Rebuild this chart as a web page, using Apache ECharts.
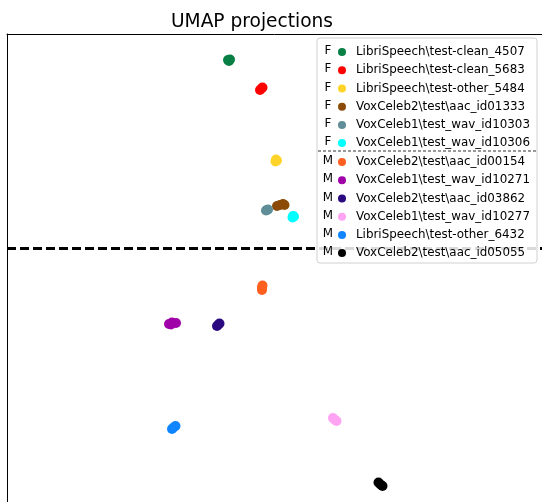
<!DOCTYPE html>
<html>
<head>
<meta charset="utf-8">
<script src="https://cdn.jsdelivr.net/npm/echarts@6/dist/echarts.min.js"></script>
<style>
  html, body { margin: 0; padding: 0; background: #fff; }
  #chart { width: 542px; height: 502px; }
</style>
</head>
<body>
<div id="chart"></div>
<script>
// speakers, in legend order
const speakerNames = [
    'LibriSpeech\\test-clean_4507',
    'LibriSpeech\\test-clean_5683',
    'LibriSpeech\\test-other_5484',
    'VoxCeleb2\\test\\aac_id01333',
    'VoxCeleb1\\test_wav_id10303',
    'VoxCeleb1\\test_wav_id10306',
    'VoxCeleb2\\test\\aac_id00154',
    'VoxCeleb1\\test_wav_id10271',
    'VoxCeleb2\\test\\aac_id03862',
    'VoxCeleb1\\test_wav_id10277',
    'LibriSpeech\\test-other_6432',
    'VoxCeleb2\\test\\aac_id05055'
];
const speakerGenders = ['F', 'F', 'F', 'F', 'F', 'F', 'M', 'M', 'M', 'M', 'M', 'M'];
const speakerColors = [
    '#087f45', '#ff0000', '#ffd42a', '#8b4a06', '#5f8e98', '#00ffff',
    '#ff5f1f', '#a000a8', '#2b0a80', '#ffa3f3', '#1085ff', '#000000'
];

// umap coordinates
const pts4507 = [[4.42, 9.48], [4.46, 9.49], [4.44, 9.46]];
const pts5683 = [[5.06, 8.88], [5.09, 8.91], [5.11, 8.93]];
const pts5484 = [[5.37, 7.45], [5.40, 7.47], [5.38, 7.49]];
const pts01333 = [[5.40, 6.56], [5.46, 6.58], [5.52, 6.60], [5.55, 6.58]];
const pts10303 = [[5.18, 6.47], [5.22, 6.49], [5.20, 6.48]];
const pts10306 = [[5.71, 6.33], [5.74, 6.35], [5.72, 6.36]];
const pts00154 = [[5.10, 4.88], [5.10, 4.93], [5.11, 4.97]];
const pts10271 = [[3.24, 4.20], [3.30, 4.23], [3.38, 4.22], [3.28, 4.19]];
const pts03862 = [[4.20, 4.16], [4.23, 4.19], [4.25, 4.21]];
const pts10277 = [[6.52, 2.32], [6.55, 2.29], [6.59, 2.26]];
const pts6432 = [[3.30, 2.10], [3.33, 2.13], [3.37, 2.16]];
const pts05055 = [[7.43, 1.03], [7.47, 0.99], [7.51, 0.96]];
const speakerPoints = [
    pts4507, pts5683, pts5484, pts01333, pts10303, pts10306,
    pts00154, pts10271, pts03862, pts10277, pts6432, pts05055
];

// dashed line separating female / male clusters
const splitY = 5.72;

// visible part of the (cropped) axes
const xRange = [0, 10.7];
const yRange = [0.64, 10];

const chart = echarts.init(document.getElementById('chart'));

const femaleNames = speakerNames.filter((n, i) => speakerGenders[i] === 'F');
const maleNames = speakerNames.filter((n, i) => speakerGenders[i] === 'M');

const series = speakerNames.map((name, i) => ({
    name: name,
    type: 'scatter',
    data: speakerPoints[i],
    symbolSize: 10,
    itemStyle: { color: speakerColors[i], opacity: 1 },
    emphasis: { disabled: true }
}));
series[0].markLine = {
    silent: true,
    symbol: 'none',
    label: { show: false },
    lineStyle: { color: '#000', width: 3, type: [9, 4] },
    data: [{ yAxis: splitY }]
};

const rowH = 18.2;
const fTop = 43;
const mTop = 153;

const legendCommon = {
    orient: 'vertical',
    left: 338,
    z: 101,
    icon: 'circle',
    itemWidth: 8,
    itemHeight: 8,
    itemGap: 0,
    selectedMode: false,
    padding: 0,
    textStyle: {
        fontFamily: 'DejaVu Sans', fontSize: 11.9, color: '#000',
        lineHeight: rowH, padding: [0, 0, 0, 5]
    }
};

// F / M letters in front of legend rows
const genderLabels = speakerGenders.map((g, i) => ({
    type: 'text',
    z: 102,
    x: 328,
    y: (i < 6 ? fTop : mTop) + (i % 6) * rowH + rowH / 2 - 1,
    style: {
        text: g, fontFamily: 'DejaVu Sans', fontSize: 11.9, fill: '#000',
        align: 'center', verticalAlign: 'middle'
    }
}));

const option = {
    backgroundColor: '#fff',
    animation: false,
    title: {
        text: 'UMAP projections',
        left: 166,
        top: 8,
        textStyle: { fontFamily: 'DejaVu Sans', fontSize: 18.6, fontWeight: 'normal', color: '#000' }
    },
    grid: {
        left: 7,
        top: 34,
        right: 0,
        bottom: 0,
        show: false
    },
    xAxis: {
        type: 'value', min: xRange[0], max: xRange[1], position: 'top',
        axisLine: { show: true, onZero: false, lineStyle: { color: '#000', width: 1 } },
        axisTick: { show: false },
        axisLabel: { show: false }, splitLine: { show: false }
    },
    yAxis: {
        type: 'value', min: yRange[0], max: yRange[1],
        axisLine: { show: true, onZero: false, lineStyle: { color: '#000', width: 1 } },
        axisTick: { show: false },
        axisLabel: { show: false }, splitLine: { show: false }
    },
    legend: [
        Object.assign({}, legendCommon, { top: fTop, data: femaleNames }),
        Object.assign({}, legendCommon, { top: mTop, data: maleNames })
    ],
    graphic: {
        z: 100,
        elements: [
            {
                type: 'rect',
                z: 100,
                shape: { x: 317, y: 38, width: 220, height: 225, r: 3 },
                style: { fill: 'rgba(255,255,255,0.85)', stroke: '#d0d0d0', lineWidth: 1 }
            },
            {
                type: 'line',
                z: 102,
                shape: { x1: 318, y1: 151, x2: 537, y2: 151 },
                style: { stroke: '#333', lineWidth: 1, lineDash: [3, 2] }
            }
        ].concat(genderLabels)
    },
    series: series
};

chart.setOption(option);
</script>
</body>
</html>
